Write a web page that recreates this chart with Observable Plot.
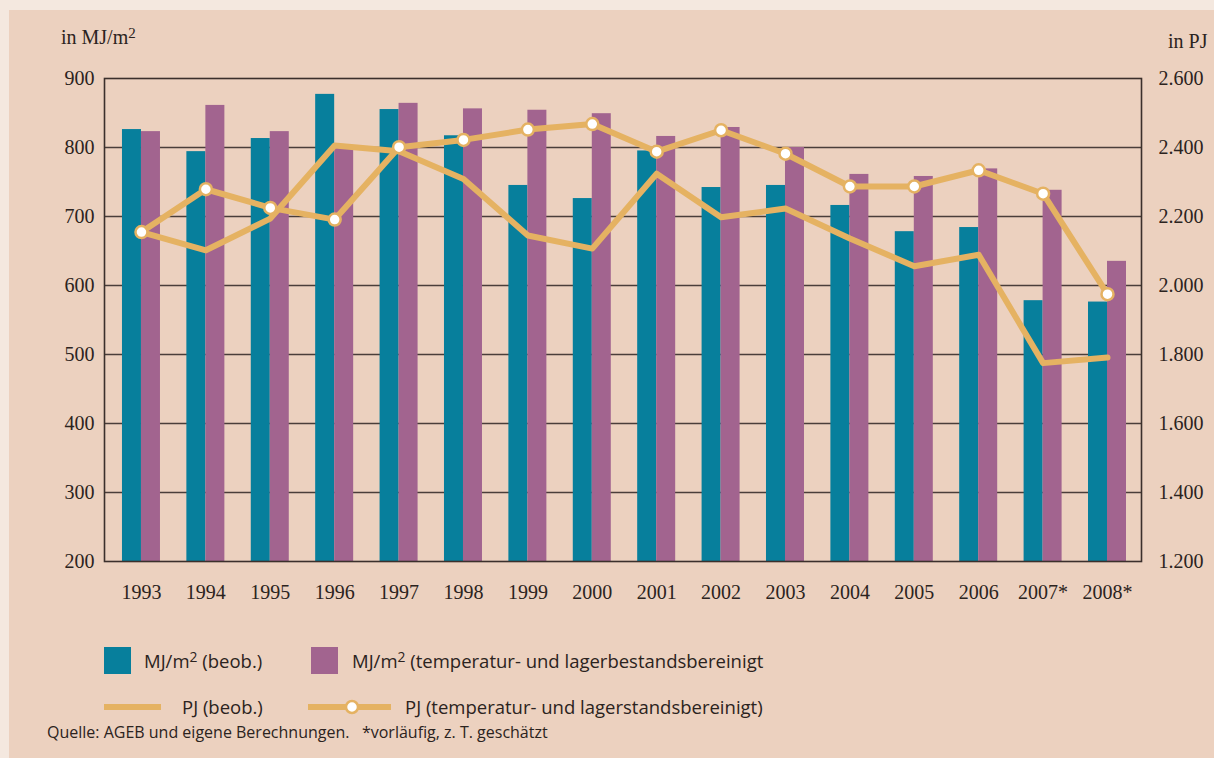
<!DOCTYPE html>
<html>
<head>
<meta charset="utf-8">
<script src="https://cdn.jsdelivr.net/npm/d3@7"></script>
<script src="https://cdn.jsdelivr.net/npm/@observablehq/plot@0.6"></script>
<style>
  html, body { margin: 0; padding: 0; }
  #page { position: relative; width: 1214px; height: 758px; background: #f4e8df; overflow: hidden; }
  #panel { position: absolute; left: 9px; top: 10px; right: 0; bottom: 0; background: #ecd1bf; }
  #chart { position: absolute; left: 0; top: 0; }
  .serif { position: absolute; font-family: "Liberation Serif", serif; font-size: 20px; color: #2b2320; line-height: 20px; white-space: nowrap; }
  .leg { position: absolute; font-family: "Open Sans", "Noto Sans", sans-serif; font-size: 18.5px; color: #2b2320; line-height: 18px; white-space: nowrap; }
  .sw { position: absolute; }
  sup { font-size: 0.75em; vertical-align: 0; position: relative; top: -0.4em; }
</style>
</head>
<body>
<div id="page">
  <div id="panel"></div>
  <div id="chart"></div>
  <div class="serif" style="left:61px; top:27px;">in MJ/m<sup>2</sup></div>
  <div class="serif" style="left:1168px; top:31px;">in PJ</div>

  <div class="sw" style="left:104px; top:647px; width:27px; height:27px; background:#077f9c;"></div>
  <div class="leg" id="l1" style="left:144px; top:652px;">MJ/m<sup>2</sup> (beob.)</div>
  <div class="sw" style="left:311px; top:647px; width:27px; height:27px; background:#a2648f;"></div>
  <div class="leg" id="l2" style="left:352px; top:652px;">MJ/m<sup>2</sup> (temperatur- und lagerbestandsbereinigt</div>

  <svg class="sw" style="left:100px; top:697px;" width="300" height="20">
    <line x1="4" x2="61" y1="10" y2="10" stroke="#e5b262" stroke-width="6"/>
    <line x1="208" x2="291" y1="10" y2="10" stroke="#e5b262" stroke-width="6"/>
    <circle cx="252" cy="10" r="6" fill="#fff" stroke="#e5b262" stroke-width="2.5"/>
  </svg>
  <div class="leg" id="l3" style="left:182px; top:698px;">PJ (beob.)</div>
  <div class="leg" id="l4" style="left:405px; top:698px;">PJ (temperatur- und lagerstandsbereinigt)</div>

  <div class="leg" id="src" style="left:47px; top:725px; font-size:16px; line-height:15px;">Quelle: AGEB und eigene Berechnungen.&nbsp;&nbsp; *vorläufig, z. T. geschätzt</div>
</div>
<script>
// ---- data ----
const years  = ["1993","1994","1995","1996","1997","1998","1999","2000","2001","2002","2003","2004","2005","2006","2007*","2008*"];
const mjObs  = [826, 794, 813, 877, 855, 817, 745, 726, 795, 742, 745, 716, 678, 684, 578, 576];
const mjAdj  = [823, 861, 823, 800, 864, 856, 854, 849, 816, 829, 800, 761, 758, 769, 738, 635];
const pjObs  = [2155, 2102, 2194, 2406, 2389, 2309, 2145, 2107, 2324, 2198, 2223, 2136, 2056, 2089, 1775, 1791];
const pjAdj  = [2155, 2279, 2225, 2191, 2401, 2422, 2452, 2468, 2388, 2450, 2382, 2287, 2287, 2334, 2266, 1975];
const mjTicks = [200, 300, 400, 500, 600, 700, 800, 900];
const pjTicks = [1200, 1400, 1600, 1800, 2000, 2200, 2400, 2600];

// ---- colours ----
const teal = "#077f9c", purple = "#a2648f", gold = "#e5b262", ink = "#2b2320", gridc = "#4a3e3a";

// map PJ (right axis) onto the MJ/m² (left) scale domain
const mjDom = [200, 900], pjDom = [1200, 2600];
const toLeft = v => mjDom[0] + (v - pjDom[0]) * (mjDom[1] - mjDom[0]) / (pjDom[1] - pjDom[0]);
const toPJ = v => pjDom[0] + (v - mjDom[0]) * (pjDom[1] - pjDom[0]) / (mjDom[1] - mjDom[0]);
const deFmt = v => Math.round(v).toLocaleString("de-DE");

const rows = years.map((year, i) => ({year, mjObs: mjObs[i], mjAdj: mjAdj[i], pjObs: toLeft(pjObs[i]), pjAdj: toLeft(pjAdj[i])}));

const chart = Plot.plot({
  width: 1214,
  height: 620,
  marginLeft: 104,
  marginRight: 73,
  marginTop: 78,
  marginBottom: 59,
  style: {background: "transparent", fontFamily: "'Liberation Serif', serif", fontSize: "20px", color: ink},
  x: {type: "band", domain: years, paddingInner: 0.41, paddingOuter: 0.256, align: 0.545, round: false, label: null},
  y: {domain: mjDom, label: null},
  marks: [
    Plot.ruleY(mjTicks.slice(1, -1), {stroke: gridc, strokeWidth: 1.6}),
    Plot.barY(rows, {x: "year", y: "mjObs", fill: teal, insetRight: 19, clip: true}),
    Plot.barY(rows, {x: "year", y: "mjAdj", fill: purple, insetLeft: 19, clip: true}),
    Plot.frame({stroke: "#3b302c", strokeWidth: 1.6}),
    Plot.line(rows, {x: "year", y: "pjObs", stroke: gold, strokeWidth: 6, strokeLinejoin: "round"}),
    Plot.line(rows, {x: "year", y: "pjAdj", stroke: gold, strokeWidth: 6, strokeLinejoin: "round"}),
    Plot.dot(rows, {x: "year", y: "pjAdj", r: 6, fill: "#fff", stroke: gold, strokeWidth: 2.5}),
    Plot.axisX({tickSize: 0, tickPadding: 23, label: null, fill: ink}),
    Plot.axisY(mjTicks, {anchor: "left", tickSize: 0, tickPadding: 10, label: null, fill: ink}),
    Plot.axisY(pjTicks.map(toLeft), {anchor: "right", tickSize: 0, tickPadding: 17, label: null, fill: ink, tickFormat: v => deFmt(toPJ(v))})
  ]
});
document.getElementById("chart").appendChild(chart);
</script>
</body>
</html>
